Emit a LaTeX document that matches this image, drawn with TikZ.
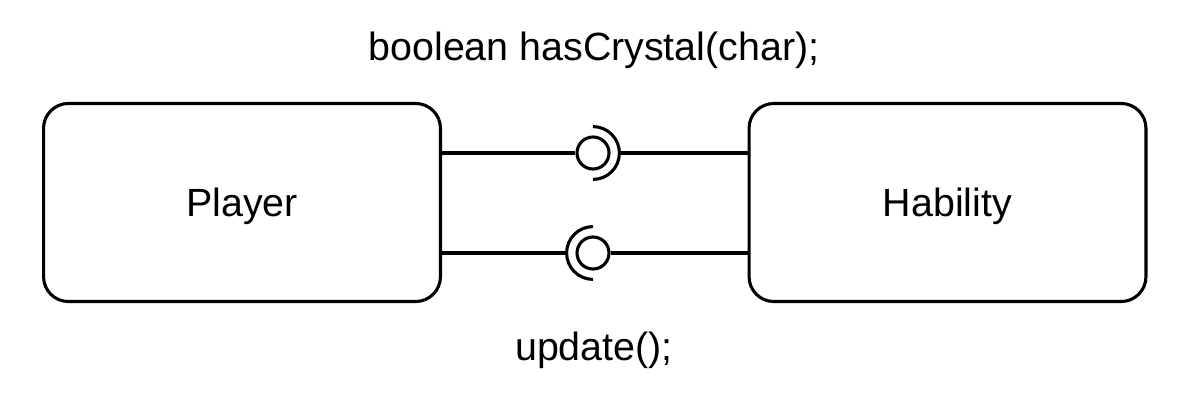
\documentclass[tikz,border=0pt]{standalone}
\usepackage{fontspec}
\setmainfont{Liberation Sans}
\usetikzlibrary{positioning,calc}
\tikzset{
  block/.style={
    draw=black,
    rounded corners=0.62cm,
    line width=2.2pt,
    fill=white,
    minimum width=9.92cm,
    minimum height=4.95cm,
    align=center,
    text depth=0pt,
    font=\fontsize{28}{34}\selectfont
  },
  wire/.style={line width=2.2pt},
  ball/.style={draw=black, circle, line width=2.2pt, minimum size=0.8cm, inner sep=0pt},
  socket/.style={line width=2.2pt},
  caption/.style={inner sep=0pt, font=\fontsize{28}{34}\selectfont}
}
\newcommand{\socketarc}[3]{
  \draw[socket] ([shift={(#2:0.66cm)}]#1.center) arc[start angle=#2, end angle=#3, radius=0.66cm];
}

\begin{document}
\begin{tikzpicture}[x=0.025cm, y=-0.025cm]
  \useasboundingbox (0,0) rectangle (1187,412);

  \node[block] (player) at (242,202.5) {Player};
  \node[block] (hability) at (947.5,202.5) {Hability};

  % provided / required interfaces
  \node[ball] (hasball) at (593,153) {};
  \node[ball] (updball) at (593,253) {};
  \socketarc{hasball}{90}{-90}
  \socketarc{updball}{90}{270}
  \coordinate (hassock) at ([xshift=0.66cm]hasball.center);
  \coordinate (updsock) at ([xshift=-0.66cm]updball.center);

  \draw[wire] (player.east |- hasball.west) -- (hasball.west);
  \draw[wire] (hassock) -- (hassock -| hability.west);
  \draw[wire] (player.east |- updsock) -- (updsock);
  \draw[wire] (updball.east) -- (updball.east -| hability.west);

  \node[caption] (hastext) at (594,50) {boolean hasCrystal(char);};
  \node[caption] (updtext) at (594,350) {update();};

\end{tikzpicture}
\end{document}
